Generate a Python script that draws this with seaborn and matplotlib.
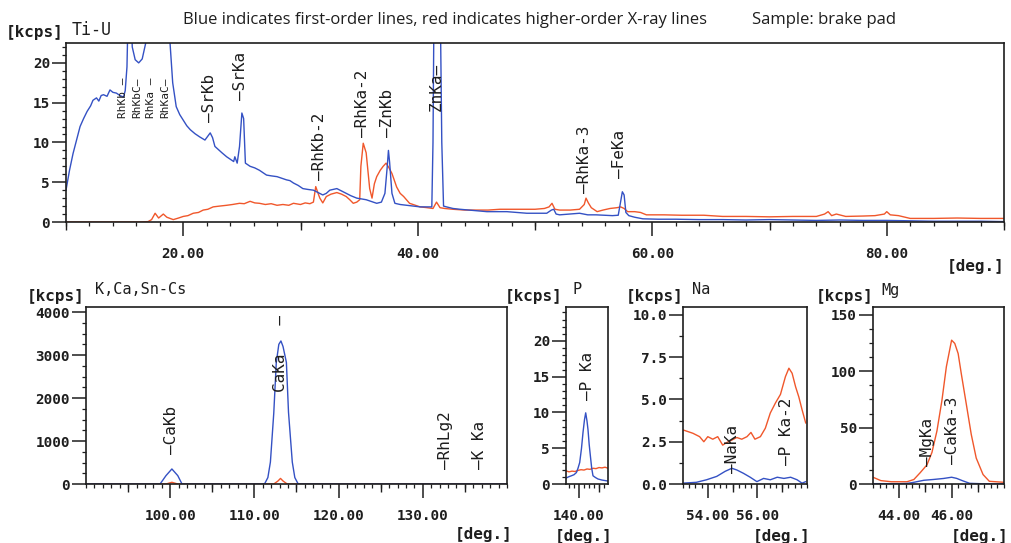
import matplotlib
matplotlib.use("Agg")
import matplotlib.pyplot as plt
import seaborn as sns
from matplotlib.ticker import FixedLocator, MultipleLocator

# ---------------------------------------------------------------- data
# Ti-U scan (2theta in degrees, intensity in kcps)
top_blue_deg = [10.0, 10.3, 10.6, 10.9, 11.2, 11.5, 11.8, 12.1, 12.3, 12.6, 12.8, 13.0, 13.2,
                13.5, 13.75, 14.0, 14.3, 14.6, 14.9, 15.05, 15.2, 15.35, 15.5, 15.65, 15.9,
                16.2, 16.5, 16.8, 17.0, 17.3, 17.6, 18.0, 18.5, 18.85, 19.1, 19.4, 19.7,
                20.0, 20.3, 20.6, 21.0, 21.4, 21.85, 22.1, 22.3, 22.5, 22.7, 23.0, 23.3,
                23.7, 24.0, 24.3, 24.4, 24.6, 24.8, 25.0, 25.15, 25.3, 25.7, 26.1, 26.5,
                26.8, 27.1, 27.5, 28.0, 28.4, 28.8, 29.1, 29.4, 29.8, 30.2, 30.6, 31.1,
                31.5, 31.9, 32.2, 32.5, 33.1, 33.5, 33.9, 34.3, 34.8, 35.2, 35.6, 36.0,
                36.5, 36.9, 37.2, 37.4, 37.5, 37.6, 37.8, 38.05, 38.5, 39.05, 39.6, 40.2,
                40.8, 41.2, 41.3, 41.4, 41.9, 42.05, 42.2, 42.45, 43.0, 43.6, 44.4, 45.1,
                45.9, 46.7, 47.6, 48.4, 49.3, 50.2, 51.0, 51.4, 51.6, 51.8, 52.1, 53.0,
                53.8, 54.5, 55.2, 56.0, 56.6, 57.1, 57.3, 57.45, 57.6, 57.75, 58.0, 58.5,
                59.2, 60.5, 62.0, 64.0, 66.0, 68.0, 70.0, 72.0, 74.0, 76.0, 78.0, 80.0,
                82.0, 84.0, 86.0, 88.0, 90.0]
top_blue_kcps = [4.0, 6.5, 8.6, 10.3, 12.0, 13.0, 13.9, 14.6, 15.3, 15.6, 15.2, 15.9, 16.0,
                 15.8, 16.6, 16.3, 16.2, 15.9, 15.7, 16.5, 19.5, 30.0, 30.0, 22.0, 20.4,
                 20.0, 20.5, 22.5, 35.0, 35.0, 28.0, 30.0, 30.0, 23.0, 17.5, 14.5, 13.5,
                 12.8, 12.1, 11.6, 11.1, 10.7, 10.3, 10.8, 11.2, 10.6, 9.5, 9.1, 8.7,
                 8.2, 7.9, 7.6, 8.2, 7.4, 9.5, 13.7, 13.0, 7.4, 7.0, 6.8, 6.5,
                 6.2, 5.9, 5.8, 5.7, 5.5, 5.3, 5.2, 4.9, 4.6, 4.2, 4.1, 4.0,
                 3.7, 3.4, 3.6, 4.0, 4.2, 3.9, 3.6, 3.3, 3.0, 2.9, 2.8, 2.6,
                 2.35, 2.5, 3.6, 7.0, 9.0, 7.5, 3.6, 2.35, 2.2, 2.1, 2.0, 1.9,
                 1.9, 1.9, 10.0, 30.0, 30.0, 10.0, 2.0, 1.9, 1.7, 1.6, 1.5, 1.4,
                 1.3, 1.3, 1.3, 1.2, 1.1, 1.1, 1.1, 1.5, 1.6, 1.0, 0.9, 1.0,
                 1.1, 0.9, 0.9, 0.85, 0.8, 0.85, 2.5, 3.8, 3.4, 1.2, 0.8, 0.6,
                 0.4, 0.35, 0.35, 0.3, 0.3, 0.25, 0.3, 0.25, 0.2, 0.25, 0.2, 0.2,
                 0.15, 0.1, 0.1, 0.1, 0.05]

top_red_deg = [10.0, 16.3, 17.0, 17.3, 17.6, 17.9, 18.3, 18.6, 19.15, 19.6, 20.0, 20.4,
               20.85, 21.3, 21.7, 22.1, 22.55, 23.1, 23.7, 24.2, 24.8, 25.2, 25.7, 26.1,
               26.5, 27.0, 27.5, 28.0, 28.5, 29.0, 29.4, 30.0, 30.4, 30.8, 31.1, 31.3,
               31.5, 31.65, 31.9, 32.2, 32.6, 33.1, 33.5, 33.9, 34.2, 34.5, 34.8, 35.05,
               35.15, 35.35, 35.6, 35.9, 36.1, 36.3, 36.5, 36.8, 37.05, 37.3, 37.55, 37.8,
               38.2, 38.5, 38.8, 39.3, 39.8, 40.2, 40.8, 41.3, 41.6, 41.9, 42.3, 43.0,
               44.0, 45.0, 46.0, 47.0, 48.0, 49.0, 50.0, 50.8, 51.2, 51.45, 51.7, 52.1,
               53.0, 53.8, 54.2, 54.35, 54.55, 54.8, 55.3, 55.8, 56.4, 57.0, 57.3, 57.6,
               57.9, 58.5, 59.0, 59.5, 61.0, 62.5, 64.4, 66.0, 68.0, 70.0, 72.0, 74.0,
               74.7, 75.0, 75.3, 75.7, 76.5, 78.0, 79.0, 79.8, 80.0, 80.3, 81.0, 82.0,
               84.0, 86.0, 88.0, 90.0]
top_red_kcps = [0.0, 0.0, 0.05, 0.3, 1.1, 0.5, 1.0, 0.6, 0.3, 0.5, 0.7, 0.8,
                1.1, 1.2, 1.5, 1.6, 1.9, 2.0, 2.1, 2.2, 2.35, 2.3, 2.6, 2.4,
                2.35, 2.2, 2.3, 2.1, 2.2, 2.1, 2.35, 2.2, 2.4, 2.3, 2.5, 4.45,
                3.6, 3.0, 2.4, 3.2, 3.5, 3.7, 3.5, 3.2, 2.8, 2.35, 2.5, 2.8,
                7.0, 9.9, 8.7, 4.2, 3.0, 4.8, 5.7, 6.5, 7.0, 7.4, 6.8, 6.1,
                4.4, 3.6, 3.2, 2.35, 2.1, 1.9, 1.8, 1.7, 2.5, 1.8, 1.7, 1.6,
                1.5, 1.5, 1.5, 1.6, 1.6, 1.6, 1.6, 1.7, 1.9, 2.35, 1.6, 1.5,
                1.5, 1.6, 2.2, 3.0, 2.4, 1.8, 1.3, 1.5, 1.7, 1.8, 1.9, 1.7,
                1.3, 1.3, 1.2, 0.9, 0.9, 0.85, 0.85, 0.7, 0.7, 0.65, 0.7, 0.7,
                1.0, 1.3, 0.8, 1.0, 0.7, 0.75, 0.8, 1.0, 1.3, 0.9, 0.8, 0.45,
                0.45, 0.5, 0.45, 0.45]

# K, Ca, Sn-Cs scan
kca_blue_deg = [90.0, 98.8, 99.5, 100.2, 100.9, 101.4, 111.2, 111.6, 111.9, 112.3, 112.6,
                112.9, 113.15, 113.4, 113.8, 114.05, 114.5, 114.8, 115.2, 140.0]
kca_blue_kcps = [0, 0, 195, 350, 195, 0, 0, 150, 510, 1650, 2830,
                 3250, 3330, 3200, 2830, 1670, 510, 150, 0, 0]
kca_red_deg = [90.0, 99.5, 100.2, 100.9, 112.3, 112.8, 113.1, 113.4, 113.9, 140.0]
kca_red_kcps = [0, 0, 40, 0, 0, 70, 130, 70, 0, 0]

# P scan
p_blue_deg = [138.67, 138.95, 139.24, 139.5, 139.74, 139.9, 140.07, 140.25, 140.4, 140.55,
              140.67, 140.8, 140.9, 141.02, 141.14, 141.27, 141.4, 141.65, 141.9, 142.3,
              142.74, 142.9]
p_blue_kcps = [0.8, 1.0, 1.15, 1.3, 1.6, 2.2, 3.0, 5.0, 7.2, 9.0,
               9.95, 8.8, 7.6, 5.5, 3.9, 2.2, 1.15, 0.9, 0.7, 0.55,
               0.45, 0.4]
p_red_deg = [138.67, 139.0, 139.3, 139.6, 139.9, 140.2, 140.5, 140.8, 141.1, 141.4,
             141.7, 142.0, 142.3, 142.6, 142.9]
p_red_kcps = [1.85, 1.7, 1.8, 1.75, 1.9, 2.0, 1.95, 2.1, 2.05, 2.2,
              2.15, 2.3, 2.25, 2.35, 2.2]

# Na scan
na_blue_deg = [53.0, 53.54, 53.95, 54.36, 54.7, 54.97, 55.17, 55.44, 55.71, 55.98,
               56.25, 56.52, 56.8, 57.07, 57.34, 57.6, 57.8, 57.95]
na_blue_kcps = [0.05, 0.1, 0.25, 0.45, 0.75, 0.93, 0.83, 0.63, 0.4, 0.14,
                0.33, 0.25, 0.4, 0.33, 0.4, 0.25, 0.05, 0.14]
na_red_deg = [53.0, 53.4, 53.67, 53.84, 54.0, 54.2, 54.4, 54.6, 54.76, 54.97,
              55.17, 55.37, 55.58, 55.74, 55.9, 56.12, 56.32, 56.52, 56.73, 56.93,
              57.13, 57.27, 57.4, 57.54, 57.67, 57.8, 57.95]
na_red_kcps = [3.2, 3.0, 2.8, 2.5, 2.8, 2.65, 2.8, 2.3, 2.45, 2.6,
               2.75, 2.65, 2.8, 3.05, 2.65, 2.8, 3.3, 4.2, 4.8, 5.3,
               6.35, 6.85, 6.55, 5.75, 5.15, 4.4, 3.6]

# Mg scan
mg_blue_deg = [43.0, 44.0, 44.3, 44.56, 44.94, 45.3, 45.69, 46.0, 46.19, 46.44, 46.69, 47.2, 48.0]
mg_blue_kcps = [0.3, 0.3, 0.5, 1.5, 3.3, 4.0, 4.9, 6.0, 5.0, 2.7, 0.6, 0.2, 0.2]
mg_red_deg = [43.0, 43.3, 43.7, 44.3, 44.56, 44.8, 45.06, 45.25, 45.44, 45.63, 45.8,
              46.0, 46.12, 46.25, 46.37, 46.56, 46.75, 46.94, 47.2, 47.44, 48.0]
mg_red_kcps = [6.0, 3.0, 2.0, 2.0, 4.0, 10.0, 17.0, 28.0, 47.0, 74.0, 104.0,
               127.6, 124.7, 115.7, 97.8, 71.0, 44.0, 23.0, 8.4, 2.4, 1.5]

# Line identifications: names, 2theta and height of the label foot
rh_line_names = ["RhKb \u2014", "RhKbC\u2014", "RhKa \u2014", "RhKaC\u2014"]
rh_line_deg = [14.85, 16.05, 17.25, 18.45]
rh_line_foot = [13.1, 13.1, 13.1, 13.1]

top_line_names = ["\u2014SrKb", "\u2014SrKa", "\u2014RhKb-2", "\u2014RhKa-2", "\u2014ZnKb",
                  "ZnKa\u2014", "\u2014RhKa-3", "\u2014FeKa"]
top_line_deg = [22.2, 24.9, 31.65, 35.3, 37.45, 41.6, 54.25, 57.2]
top_line_foot = [12.6, 15.3, 5.3, 10.7, 10.7, 13.9, 3.6, 5.5]

kca_line_names = ["\u2014CaKb", "CaKa   \u2014", "\u2014RhLg2", "\u2014K Ka"]
kca_line_deg = [100.2, 113.1, 132.7, 136.7]
kca_line_foot = [700, 2140, 350, 350]

p_line_names = ["\u2014P Ka"]
p_line_deg = [140.87]
p_line_foot = [11.7]

na_line_names = ["\u2014NaKa", "\u2014P Ka-2"]
na_line_deg = [55.0, 57.17]
na_line_foot = [0.65, 1.1]

mg_line_names = ["\u2014MgKa", "\u2014CaKa-3"]
mg_line_deg = [45.07, 46.03]
mg_line_foot = [16.0, 17.6]

# ---------------------------------------------------------------- style
sns.set_theme(style="white")
MONO = "DejaVu Sans Mono"
plt.rcParams["font.family"] = [MONO, "DejaVu Sans"]

BLUE = "#3451c4"
RED = "#f0572b"
INK = "#1e1e1e"
W, H = 1011, 543

fig = plt.figure(figsize=(W / 100, H / 100), dpi=100)
fig.patch.set_facecolor("white")


def px_axes(left, top, right, bottom):
    return fig.add_axes([left / W, 1 - bottom / H, (right - left) / W, (bottom - top) / H])


def draw_scan(ax, rdeg, rval, bdeg, bval):
    sns.lineplot(x=rdeg, y=rval, ax=ax, color=RED, lw=1.0, estimator=None, sort=False)
    sns.lineplot(x=bdeg, y=bval, ax=ax, color=BLUE, lw=1.0, estimator=None, sort=False)
    ax.set_xlabel("")
    ax.set_ylabel("")


def frame(ax, xlim, ylim, xmajor, xlabels, xmed, xminor, ymajor, ylabels, yminor):
    ax.set_xlim(*xlim)
    ax.set_ylim(*ylim)
    ax.xaxis.set_major_locator(FixedLocator(xmajor))
    ax.set_xticklabels(xlabels)
    ax.xaxis.set_minor_locator(MultipleLocator(xminor))
    ax.yaxis.set_major_locator(FixedLocator(ymajor))
    ax.set_yticklabels(ylabels)
    ax.yaxis.set_minor_locator(MultipleLocator(yminor))
    ax.tick_params(which="major", direction="out", length=10, width=1.1, color=INK,
                   labelsize=10.3, labelcolor=INK, bottom=True, left=True)
    ax.tick_params(which="minor", direction="out", length=3, width=0.9, color=INK,
                   bottom=True, left=True)
    ax.tick_params(axis="x", which="major", pad=8)
    ax.tick_params(axis="y", which="major", pad=1.5)
    for lab in ax.get_xticklabels() + ax.get_yticklabels():
        lab.set_fontweight("bold")
        lab.set_family(MONO)
    for sp in ax.spines.values():
        sp.set_visible(True)
        sp.set_color(INK)
        sp.set_linewidth(1.2)
    if xmed:
        sec = ax.secondary_xaxis("bottom")
        sec.set_xticks(xmed)
        sec.tick_params(direction="out", length=5.5, width=1.0, color=INK, labelbottom=False)
        sec.spines["bottom"].set_visible(False)
    ax.grid(False)


def identify(ax, names, degs, feet, size=11.5):
    for name, d, f in zip(names, degs, feet):
        ax.text(d, f, name, rotation=90, ha="center", va="bottom", fontsize=size,
                color=INK, family=MONO)


def ftext(x, y, s, size=11.5, weight="bold", ha="left", family=MONO):
    fig.text(x / W, 1 - y / H, s, fontsize=size, fontweight=weight, ha=ha, va="center",
             color=INK, family=family)


# ---------------------------------------------------------------- Ti-U
ax_top = px_axes(66, 43, 1004, 222)
draw_scan(ax_top, top_red_deg, top_red_kcps, top_blue_deg, top_blue_kcps)
frame(ax_top, (10, 90), (0, 22.5), [20, 40, 60, 80], ["20.00", "40.00", "60.00", "80.00"],
      [10, 30, 50, 70, 90], 2, [0, 5, 10, 15, 20], ["0", "5", "10", "15", "20"], 1)
identify(ax_top, rh_line_names, rh_line_deg, rh_line_foot, size=8)
identify(ax_top, top_line_names, top_line_deg, top_line_foot)

# ---------------------------------------------------------------- K, Ca, Sn-Cs
ax_kca = px_axes(86, 307, 507, 484)
draw_scan(ax_kca, kca_red_deg, kca_red_kcps, kca_blue_deg, kca_blue_kcps)
frame(ax_kca, (90, 140), (0, 4120), [100, 110, 120, 130],
      ["100.00", "110.00", "120.00", "130.00"], [95, 105, 115, 125, 135], 1,
      [0, 1000, 2000, 3000, 4000], ["0", "1000", "2000", "3000", "4000"], 250)
identify(ax_kca, kca_line_names, kca_line_deg, kca_line_foot)

# ---------------------------------------------------------------- P
ax_p = px_axes(566, 307, 608, 484)
draw_scan(ax_p, p_red_deg, p_red_kcps, p_blue_deg, p_blue_kcps)
frame(ax_p, (138.7, 142.9), (0, 24.75), [140], ["140.00"], [142], 0.5,
      [0, 5, 10, 15, 20], ["0", "5", "10", "15", "20"], 1)
identify(ax_p, p_line_names, p_line_deg, p_line_foot)

# ---------------------------------------------------------------- Na
ax_na = px_axes(683, 307, 807, 484)
draw_scan(ax_na, na_red_deg, na_red_kcps, na_blue_deg, na_blue_kcps)
frame(ax_na, (53, 58), (0, 10.47), [54, 56], ["54.00", "56.00"], [55, 57], 0.25,
      [0, 2.5, 5, 7.5, 10], ["0.0", "2.5", "5.0", "7.5", "10.0"], 1.25)
identify(ax_na, na_line_names, na_line_deg, na_line_foot)

# ---------------------------------------------------------------- Mg
ax_mg = px_axes(873, 307, 1004, 484)
draw_scan(ax_mg, mg_red_deg, mg_red_kcps, mg_blue_deg, mg_blue_kcps)
frame(ax_mg, (43, 48), (0, 157), [44, 46], ["44.00", "46.00"], [45, 47], 0.25,
      [0, 50, 100, 150], ["0", "50", "100", "150"], 12.5)
identify(ax_mg, mg_line_names, mg_line_deg, mg_line_foot)

# ---------------------------------------------------------------- captions
ftext(183, 20, "Blue indicates first-order lines, red indicates higher-order X-ray lines",
      size=12, weight="normal", family="Open Sans")
ftext(752, 20, "Sample: brake pad", size=12, weight="normal", family="Open Sans")

ftext(6, 33, "[kcps]")
ftext(72, 30, "Ti-U", size=12, weight="normal")
ftext(1004, 267, "[deg.]", ha="right")

ftext(27, 296, "[kcps]")
ftext(95, 290, "K,Ca,Sn-Cs", size=11, weight="normal")
ftext(513, 534, "[deg.]", ha="right")

ftext(505, 296, "[kcps]")
ftext(573, 289, "P", size=11, weight="normal")
ftext(613, 536, "[deg.]", ha="right")

ftext(626, 296, "[kcps]")
ftext(692, 289, "Na", size=11, weight="normal")
ftext(811, 536, "[deg.]", ha="right")

ftext(816, 296, "[kcps]")
ftext(881, 290, "Mg", size=11, weight="normal")
ftext(1008, 537, "[deg.]", ha="right")

fig.savefig("out.png", dpi=100, facecolor="white")
